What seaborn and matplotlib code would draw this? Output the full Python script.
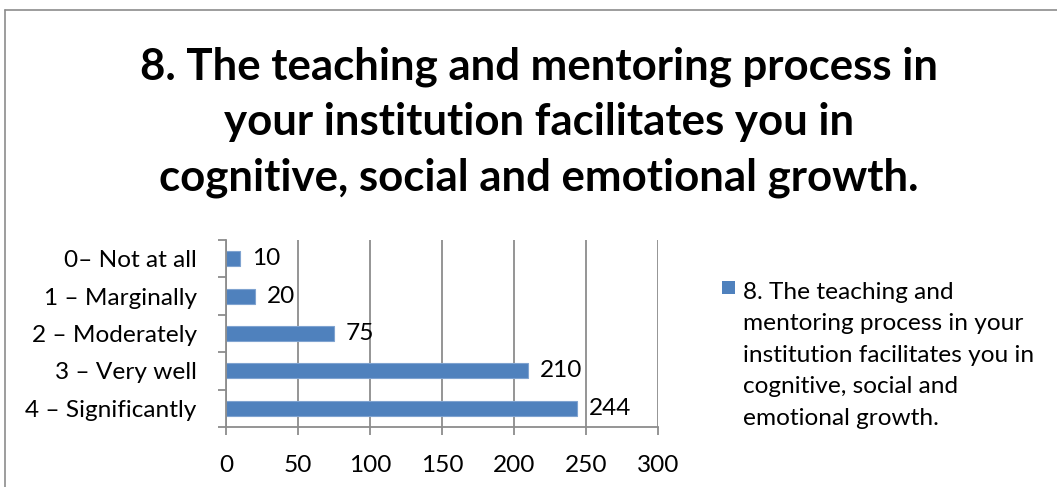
import matplotlib
matplotlib.use("Agg")
import matplotlib.pyplot as plt
import seaborn as sns
import pandas as pd
from matplotlib.patches import Rectangle
from matplotlib.lines import Line2D

categories = ["0– Not at all", "1 – Marginally", "2 – Moderately", "3 – Very well", "4 – Significantly"]
values = [10, 20, 75, 210, 244]
series_name = "8. The teaching and mentoring process in your institution facilitates you in cognitive, social and emotional growth."
title_text = "8. The teaching and mentoring process in\nyour institution facilitates you in\ncognitive, social and emotional growth."
legend_text = "8. The teaching and\nmentoring process in your\ninstitution facilitates you in\ncognitive, social and\nemotional growth."
xticks = [0, 50, 100, 150, 200, 250, 300]

sns.set_theme(style="white")
plt.rcParams['font.family'] = ['Lato', 'DejaVu Sans']

BAR = "#4F81BD"
GRID = "#8C8C8C"
FS = 17.6

fig = plt.figure(figsize=(10.57, 4.87), dpi=100)
ax = fig.add_axes([226/1057, 1-427/487, 432/1057, 187/487])

df = pd.DataFrame({"category": categories, "value": values})
sns.barplot(data=df, x="value", y="category", orient="h", color=BAR,
            saturation=1, width=0.4, ax=ax, edgecolor="#7fa3d0", linewidth=0.8)

ax.set_xlim(0, 300)
ax.set_xticks(xticks)
ax.set_ylim(len(categories)-0.5, -0.5)
ax.set_xlabel("")
ax.set_ylabel("")
ax.xaxis.grid(True, color=GRID, linewidth=1.3)
ax.set_axisbelow(True)
for s in ["top", "right"]:
    ax.spines[s].set_visible(False)
for s in ["left", "bottom"]:
    ax.spines[s].set_color(GRID)
    ax.spines[s].set_linewidth(1.3)

ax.tick_params(axis="x", which="major", direction="out", length=6, width=1.3, color=GRID,
               labelsize=FS, pad=14, bottom=True)
ax.tick_params(axis="y", which="major", length=0, labelsize=FS, pad=21)
ax.set_yticks([i + 0.5 for i in range(-1, len(categories))], minor=True)
ax.tick_params(axis="y", which="minor", direction="out", length=6, width=1.3, color=GRID, left=True)
for lbl in ax.get_xticklabels() + ax.get_yticklabels():
    lbl.set_color("black")

for i, v in enumerate(values):
    ax.annotate(str(v), xy=(v, i), xytext=(8.5, 0), textcoords="offset points",
                va="center", ha="left", fontsize=FS, color="black")

fig.text(539/1057, 1-190/487, title_text, ha="center", va="baseline", fontsize=31.5,
         fontweight="bold", linespacing=1.45, color="black")

# legend
fig.patches.append(Rectangle((722/1057, 1-294/487), 13/1057, 13/487,
                             transform=fig.transFigure, facecolor=BAR, edgecolor="none"))
fig.text(743/1057, 1-425/487, legend_text, ha="left", va="baseline", fontsize=FS,
         linespacing=1.62, color="black")

# outer frame
fig.add_artist(Line2D([4.5/1057, 1.0], [1-10/487, 1-10/487], transform=fig.transFigure,
                      color=GRID, linewidth=1.2))
fig.add_artist(Line2D([4.5/1057, 4.5/1057], [0, 1-10/487], transform=fig.transFigure,
                      color=GRID, linewidth=1.2))

fig.savefig("out.png", dpi=100, facecolor="white")
